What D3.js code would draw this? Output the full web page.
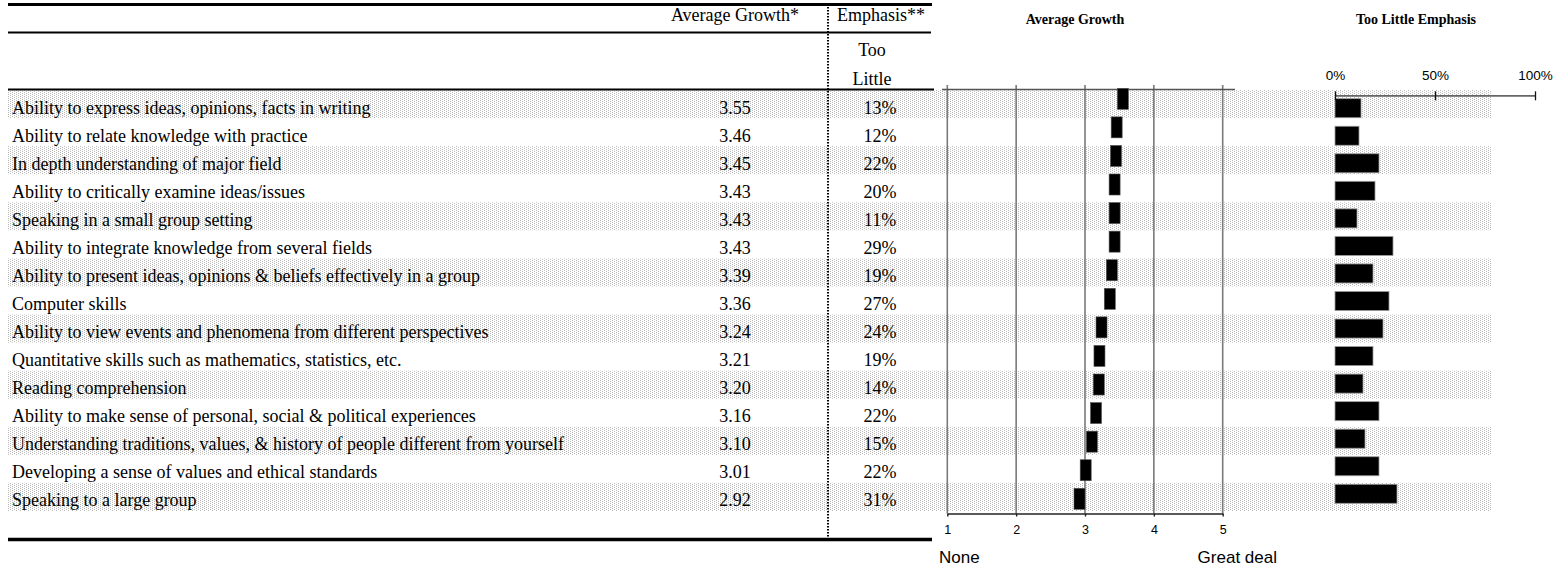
<!DOCTYPE html>
<html><head><meta charset="utf-8">
<script src="https://cdn.jsdelivr.net/npm/d3@7"></script>
<style>body{margin:0;background:#fff}</style>
</head><body>
<svg id="c" width="1560" height="569"></svg>
<script>
const categories = [
  "Ability to express ideas, opinions, facts in writing",
  "Ability to relate knowledge with practice",
  "In depth understanding of major field",
  "Ability to critically examine ideas/issues",
  "Speaking in a small group setting",
  "Ability to integrate knowledge from several fields",
  "Ability to present ideas, opinions & beliefs effectively in a group",
  "Computer skills",
  "Ability to view events and phenomena from different perspectives",
  "Quantitative skills such as mathematics, statistics, etc.",
  "Reading comprehension",
  "Ability to make sense of personal, social & political experiences",
  "Understanding traditions, values, & history of people different from yourself",
  "Developing a sense of values and ethical standards",
  "Speaking to a large group"
];
const avgGrowth = [3.55, 3.46, 3.45, 3.43, 3.43, 3.43, 3.39, 3.36, 3.24, 3.21, 3.20, 3.16, 3.10, 3.01, 2.92];
const tooLittle = [13, 12, 22, 20, 11, 29, 19, 27, 24, 19, 14, 22, 15, 22, 31];
const growthTicks = [1, 2, 3, 4, 5];
const emphasisTicks = [0, 50, 100];
const tableHeaders = ["Average Growth*", "Emphasis**"];
const emphasisSubHeader = ["Too", "Little"];
const chartTitles = ["Average Growth", "Too Little Emphasis"];
const scaleEnds = ["None", "Great deal"];

const SERIF = "'Liberation Serif','Times New Roman',serif";
const SANS = "'Liberation Sans',Arial,sans-serif";

const svg = d3.select('#c');
const defs = svg.append('defs');
const pat = defs.append('pattern').attr('id', 'dots').attr('patternUnits', 'userSpaceOnUse')
  .attr('width', 4).attr('height', 2);
pat.append('rect').attr('x', 0).attr('y', 0).attr('width', 1).attr('height', 1).attr('fill', '#b8b8b8');
pat.append('rect').attr('x', 2).attr('y', 1).attr('width', 1).attr('height', 1).attr('fill', '#b8b8b8');

const rows = categories.map((c, i) => ({cat: c, avg: avgGrowth[i], emp: tooLittle[i], i}));

// table row scale
const yRow = d3.scaleBand().domain(categories).range([90, 511]).padding(0);

// shading
svg.append('g').selectAll('rect').data(rows.filter(d => d.i % 2 === 0)).join('rect')
  .attr('x', 8).attr('width', 1484)
  .attr('y', d => yRow(d.cat)).attr('height', yRow.bandwidth())
  .attr('fill', 'url(#dots)');

// table rules
const rules = svg.append('g').attr('stroke', '#000');
rules.append('line').attr('x1', 8).attr('x2', 932).attr('y1', 4.5).attr('y2', 4.5).attr('stroke-width', 3);
rules.append('line').attr('x1', 8).attr('x2', 931).attr('y1', 32.5).attr('y2', 32.5).attr('stroke-width', 2);
rules.append('line').attr('x1', 8).attr('x2', 934).attr('y1', 89.5).attr('y2', 89.5).attr('stroke-width', 2);
rules.append('line').attr('x1', 8).attr('x2', 932).attr('y1', 539.5).attr('y2', 539.5).attr('stroke-width', 3.5);
rules.append('line').attr('x1', 828).attr('x2', 828).attr('y1', 4).attr('y2', 539)
  .attr('stroke-width', 2).attr('stroke-dasharray', '1.5,1.5');

// table text
const tt = svg.append('g').attr('font-family', SERIF).attr('font-size', 18).attr('fill', '#000');
tt.append('text').attr('x', 735).attr('y', 21).attr('text-anchor', 'middle').text(tableHeaders[0]);
tt.append('text').attr('x', 881).attr('y', 21).attr('text-anchor', 'middle').text(tableHeaders[1]);
tt.selectAll('text.sub').data(emphasisSubHeader).join('text').attr('class', 'sub')
  .attr('x', 872).attr('y', (d, i) => 56 + i * 29).attr('text-anchor', 'middle').text(d => d);
tt.selectAll('text.lab').data(rows).join('text').attr('class', 'lab')
  .attr('x', 12).attr('y', d => yRow(d.cat) + 23.5).text(d => d.cat);
tt.selectAll('text.avg').data(rows).join('text').attr('class', 'avg')
  .attr('x', 735).attr('y', d => yRow(d.cat) + 23.5).attr('text-anchor', 'middle')
  .text(d => d3.format('.2f')(d.avg));
tt.selectAll('text.emp').data(rows).join('text').attr('class', 'emp')
  .attr('x', 880).attr('y', d => yRow(d.cat) + 23.5).attr('text-anchor', 'middle')
  .text(d => d.emp + '%');

// Average growth chart
const xAvg = d3.scaleLinear().domain([1, 5]).range([947.3, 1222.7]);
const yAvg = d3.scaleBand().domain(categories).range([88.3, 509.3]).paddingInner(0.265).paddingOuter(0);
const ga = svg.append('g');
ga.selectAll('line.grid').data(growthTicks).join('line').attr('class', 'grid')
  .attr('x1', d => xAvg(d)).attr('x2', d => xAvg(d)).attr('y1', 85).attr('y2', 513.5)
  .attr('stroke', '#7a7a7a').attr('stroke-width', 1.6);
ga.append('line').attr('x1', 942).attr('x2', 1235).attr('y1', 89.5).attr('y2', 89.5)
  .attr('stroke', '#555').attr('stroke-width', 1.6);
const axB = ga.append('g').attr('transform', 'translate(0,513.5)')
  .call(d3.axisBottom(xAvg).tickValues(growthTicks).tickSize(3).tickPadding(8.5).tickSizeOuter(0).tickFormat(d3.format('d')));
axB.select('.domain').attr('stroke', '#222').attr('stroke-width', 1.6);
axB.selectAll('.tick line').attr('stroke', '#222').attr('stroke-width', 1.4);
axB.selectAll('.tick text').attr('font-family', SANS).attr('font-size', 12.5).attr('fill', '#000');
ga.selectAll('rect.bar').data(rows).join('rect').attr('class', 'bar')
  .attr('x', d => xAvg(d.avg) - 5.5).attr('width', 11)
  .attr('y', d => yAvg(d.cat)).attr('height', yAvg.bandwidth())
  .attr('fill', '#000').attr('stroke', '#555').attr('stroke-width', 0.6);
ga.append('text').attr('x', 1075).attr('y', 24).attr('text-anchor', 'middle')
  .attr('font-family', SERIF).attr('font-weight', 'bold').attr('font-size', 14).text(chartTitles[0]);
ga.append('text').attr('x', 939).attr('y', 563).attr('font-family', SANS).attr('font-size', 17).text(scaleEnds[0]);
ga.append('text').attr('x', 1277).attr('y', 563).attr('text-anchor', 'end')
  .attr('font-family', SANS).attr('font-size', 17).text(scaleEnds[1]);

// Too little emphasis chart
const xEmp = d3.scaleLinear().domain([0, 100]).range([1335, 1535]);
const yEmp = d3.scaleBand().domain(categories).range([98.7, 503.3]).paddingInner(0.31).paddingOuter(0);
const ge = svg.append('g');
ge.selectAll('rect.bar').data(rows).join('rect').attr('class', 'bar')
  .attr('x', xEmp(0)).attr('width', d => xEmp(d.emp) - xEmp(0))
  .attr('y', d => yEmp(d.cat)).attr('height', yEmp.bandwidth())
  .attr('fill', '#000').attr('stroke', '#999').attr('stroke-width', 0.8);
const axT = ge.append('g').attr('transform', 'translate(0,95.3)')
  .call(d3.axisTop(xEmp).tickValues(emphasisTicks).tickSize(4).tickPadding(11).tickSizeOuter(0).tickFormat(d => d + '%'));
axT.select('.domain').attr('stroke', '#666').attr('stroke-width', 1.8);
axT.selectAll('.tick line').attr('y1', 5).attr('stroke', '#111').attr('stroke-width', 1.3);
axT.selectAll('.tick text').attr('font-family', SANS).attr('font-size', 13.5).attr('fill', '#000');
ge.append('text').attr('x', 1416).attr('y', 24).attr('text-anchor', 'middle')
  .attr('font-family', SERIF).attr('font-weight', 'bold').attr('font-size', 14).text(chartTitles[1]);
</script>
</body></html>
